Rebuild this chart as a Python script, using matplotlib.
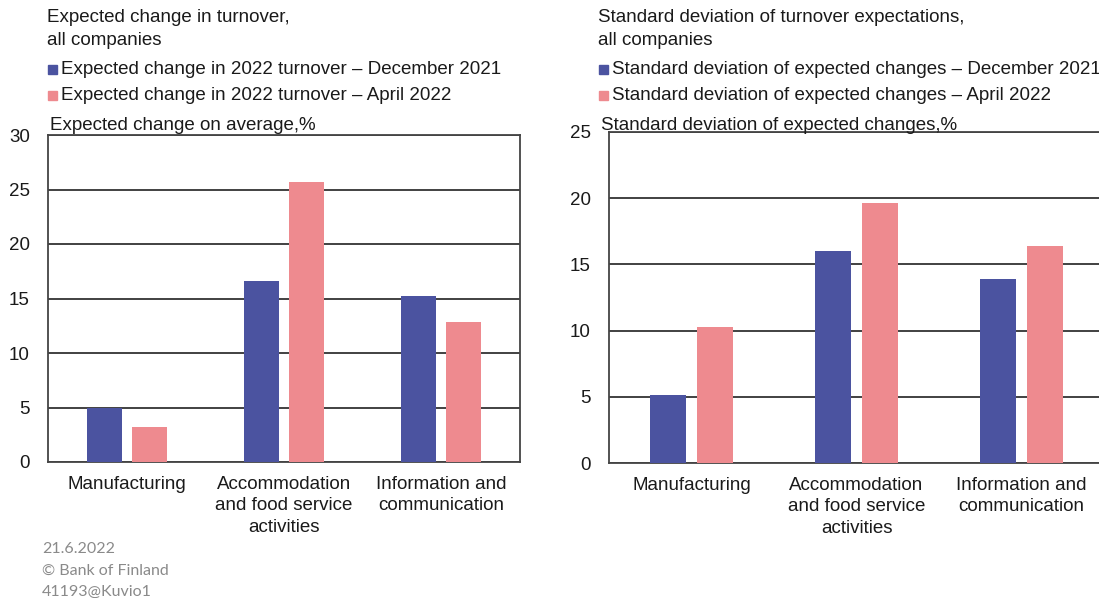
import numpy as np
import matplotlib
matplotlib.use("Agg")
import matplotlib.pyplot as plt
from matplotlib.patches import Rectangle

plt.rcParams['font.family'] = ['Liberation Sans', 'DejaVu Sans']

categories = ["Manufacturing", "Accommodation\nand food service\nactivities", "Information and\ncommunication"]

# left panel: expected change in turnover, %
change_dec2021 = [5.0, 16.6, 15.2]
change_apr2022 = [3.2, 25.7, 12.8]

# right panel: standard deviation of expected changes, %
std_dec2021 = [5.1, 16.0, 13.9]
std_apr2022 = [10.3, 19.6, 16.4]

BLUE = "#4b53a0"
PINK = "#ee8a8f"
TXT = "#1a1a1a"
W, H = 1099, 598

fig = plt.figure(figsize=(W / 100, H / 100), dpi=100)


def px(x, y):
    return x / W, 1 - y / H


def panel(rect, dec, apr, ymax, title, leg, ylab, x0):
    ax = fig.add_axes(rect)
    x = np.arange(len(categories))
    ax.bar(x - 0.143, dec, width=0.222, color=BLUE, zorder=3)
    ax.bar(x + 0.143, apr, width=0.222, color=PINK, zorder=3)
    ax.set_xlim(-0.5, 2.5)
    ax.set_ylim(0, ymax)
    ax.set_yticks(np.arange(0, ymax + 1, 5))
    ax.yaxis.grid(True, color="#333333", lw=1.3)
    ax.set_axisbelow(True)
    ax.set_xticks(x)
    ax.set_xticklabels(categories, fontsize=13.5, color=TXT, linespacing=1.35)
    ax.tick_params(axis="both", length=0, labelsize=13.5, labelcolor=TXT)
    ax.tick_params(axis="x", pad=10)
    ax.tick_params(axis="y", pad=13)
    for s in ax.spines.values():
        s.set_color("#444444")
        s.set_linewidth(1.3)

    fig.text(*px(x0, 9), title, fontsize=13.5, color=TXT, va="top", linespacing=1.45)
    for i, (lab, col) in enumerate(zip(leg, [BLUE, PINK])):
        yc = 69 + i * 27
        sx, sy = px(x0 + 1, yc + 4.5)
        fig.patches.append(Rectangle((sx, sy), 9 / W, 9 / H, color=col,
                                     transform=fig.transFigure, figure=fig))
        fig.text(*px(x0 + 14, yc), lab, fontsize=13.5, color=TXT, va="center")
    fig.text(*px(x0 + 3, 126), ylab, fontsize=13.5, color=TXT, va="center")
    return ax


panel([48 / W, 1 - 462 / H, 472 / W, 327 / H], change_dec2021, change_apr2022, 30,
      "Expected change in turnover,\nall companies",
      ["Expected change in 2022 turnover \u2013 December 2021",
       "Expected change in 2022 turnover \u2013 April 2022"],
      "Expected change on average,%", 47)

panel([609 / W, 1 - 463 / H, 495 / W, 331 / H], std_dec2021, std_apr2022, 25,
      "Standard deviation of turnover expectations,\nall companies",
      ["Standard deviation of expected changes \u2013 December 2021",
       "Standard deviation of expected changes \u2013 April 2022"],
      "Standard deviation of expected changes,%", 598)

fig.text(*px(42, 542), "21.6.2022\n\u00a9 Bank of Finland\n41193@Kuvio1",
         fontsize=11.5, color="#8a8a8a", family=["Lato", "DejaVu Sans"],
         va="top", linespacing=1.68)

fig.savefig("out.png", dpi=100)
